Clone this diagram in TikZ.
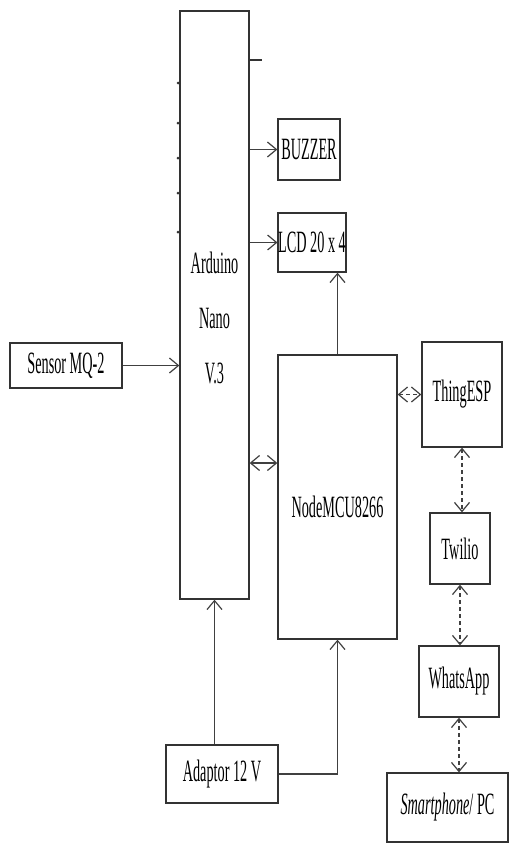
\documentclass[tikz,border=0pt]{standalone}
\usepackage{fontspec}
\setmainfont{Liberation Serif}[FakeStretch=0.46]
\usepackage{tikz}
\usetikzlibrary{positioning, arrows.meta, calc}
\tikzset{
    ujung/.tip={Straight Barb[length=9pt,width=15pt,line width=1.2pt]},
    blok/.style={draw=black!80, line width=1.3pt, fill=white, inner sep=0pt,
        font=\fontsize{31}{33}\selectfont},
    sambung/.style={draw=black!75, line width=1.3pt, -{ujung}},
    duaarah/.style={sambung, {ujung}-{ujung}},
    awan/.style={duaarah, dash pattern=on 4pt off 3pt}
}
\begin{document}
\begin{tikzpicture}[x=1pt, y=-1pt]
        \useasboundingbox (0,0) rectangle (510,846);
        % Blocks (centre, size in px)
        \node[blok, minimum width=69pt, minimum height=588pt] (ard) at (214.5,305) {};
        \node[font=\fontsize{31}{33}\selectfont, align=center] (ardtxt) at (214.5,318)
            {Arduino\\[22pt]Nano\\[22pt]V.3};
        \node[blok, minimum width=62pt, minimum height=61pt] (buzzer) at (309,149.5) {BUZZER};
        \node[blok, minimum width=66pt, minimum height=59pt] (lcd) at (312,242.5) {LCD 20 x 4};
        \node[blok, minimum width=112pt, minimum height=45pt] (sensor) at (66,365.5) {Sensor MQ-2};
        \node[blok, minimum width=119pt, minimum height=284pt] (mcu) at (337.5,497) {};
        \node[font=\fontsize{31}{33}\selectfont] (mcutxt) at (337.5,507) {NodeMCU8266};
        \node[blok, minimum width=80pt, minimum height=105pt] (thing) at (462,394.5) {ThingESP};
        \node[blok, minimum width=60pt, minimum height=71pt] (twilio) at (460,548.5) {Twilio};
        \node[blok, minimum width=80pt, minimum height=71pt] (wa) at (459,681.5) {WhatsApp};
        \node[blok, minimum width=121pt, minimum height=69pt] (hp) at (447.5,807.5) {\textit{Smartphone}/ PC};
        \node[blok, minimum width=112pt, minimum height=58pt] (adaptor) at (222,774) {Adaptor 12 V};

        % Helper rows
        \coordinate (pin)  at (0,60);      % unused pin stub
        \coordinate (bus)  at (0,463);     % Arduino <-> NodeMCU

        % Arduino outputs / inputs
        \draw[draw=black!80, line width=1.3pt] (ard.east |- pin) -- ++(12,0);
        \draw[sambung] (buzzer.west -| ard.east) -- (buzzer.west);
        \draw[sambung] (lcd.west -| ard.east) -- (lcd.west);
        \draw[sambung] (sensor.east) -- (sensor.east -| ard.west);
        \draw[duaarah] (ard.east |- bus) -- (mcu.west |- bus);
        \draw[sambung] (mcu.north) -- (mcu.north |- lcd.south);

        % Cloud chain
        \draw[awan] (mcu.east |- thing.west) -- (thing.west);
        \draw[awan] (thing.south) -- (thing.south |- twilio.north);
        \draw[awan] (twilio.south) -- (twilio.south |- wa.north);
        \draw[awan] (wa.south) -- (wa.south |- hp.north);

        % Power
        \draw[sambung] (ard.south |- adaptor.north) -- (ard.south);
        \draw[sambung] (adaptor.east) -| (mcu.south);

        % Pin marks on the left edge
        \foreach \y in {83,123,158,193,232}
            \fill[black!80] (178,\y) circle (1.5pt);
\end{tikzpicture}
\end{document}
